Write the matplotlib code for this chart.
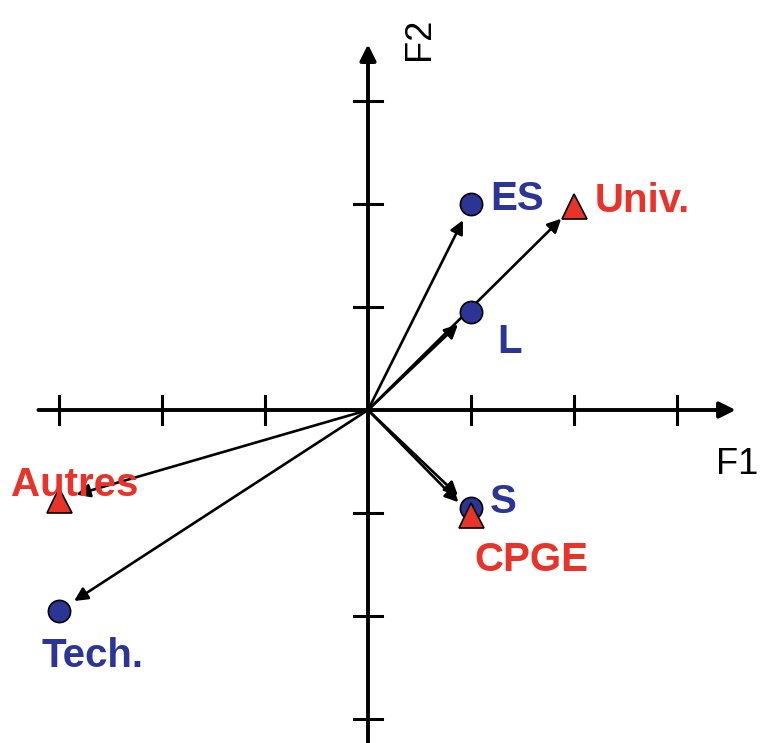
import matplotlib
matplotlib.use("Agg")
import matplotlib.pyplot as plt

# -----------------------------
# Data (F1 / F2 coordinates)
# -----------------------------
BAC_LABELS = ["ES", "L", "S", "Tech."]
BAC_F1 = [1.0, 1.0, 1.0, -3.0]
BAC_F2 = [2.0, 0.95, -0.95, -1.95]

ORIENT_LABELS = ["Univ.", "CPGE", "Autres"]
ORIENT_F1 = [2.0, 1.0, -3.0]
ORIENT_F2 = [1.98, -1.02, -0.87]

TICKS = [-3, -2, -1, 1, 2, 3]

# label offsets in pixels (dx, dy)
LABEL_OFFSETS = {
    "ES": (19, 5), "L": (26, -30), "S": (19, 6), "Tech.": (-18, -45),
    "Univ.": (21, 5), "CPGE": (3, -45), "Autres": (-48, 15),
}

BLUE = "#2b3596"
RED = "#e8332a"

fig = plt.figure(figsize=(7.6, 7.43), dpi=100)
ax = fig.add_axes([0, 0, 1, 1])
unit = 103.0
ax.set_xlim(-368 / unit, (760 - 368) / unit)
ax.set_ylim(-(743 - 410) / unit, 410 / unit)
ax.axis("off")

axis_kw = dict(arrowstyle="-|>", color="black", lw=2.8, mutation_scale=24,
               shrinkA=0, shrinkB=0)
ax.annotate("", xy=(3.57, 0), xytext=(-3.2, 0), arrowprops=axis_kw)
ax.annotate("", xy=(0, 3.55), xytext=(0, -3.4), arrowprops=axis_kw)

for t in TICKS:
    ax.plot([t, t], [-0.14, 0.14], color="black", lw=2.2)
    ax.plot([-0.14, 0.14], [t, t], color="black", lw=2.2)

ax.text(3.79, -0.53, "F1", fontsize=26, family="Liberation Sans",
        ha="right", va="center")
ax.text(0.5, 3.6, "F2", fontsize=26, family="Liberation Sans",
        ha="center", va="center", rotation=90)

arrow_kw = dict(arrowstyle="-|>", color="black", lw=1.9, mutation_scale=20,
                shrinkA=0, shrinkB=13)
for x, y in zip(BAC_F1 + ORIENT_F1, BAC_F2 + ORIENT_F2):
    ax.annotate("", xy=(x, y), xytext=(0, 0), arrowprops=arrow_kw)

ax.plot(BAC_F1, BAC_F2, "o", ms=16, color=BLUE, mec="black", mew=1.2,
        linestyle="none", zorder=3)
ax.plot(ORIENT_F1, ORIENT_F2, "^", ms=18, color=RED, mec="black", mew=1.2,
        linestyle="none", zorder=4)

for labels, xs, ys, col in [(BAC_LABELS, BAC_F1, BAC_F2, BLUE),
                            (ORIENT_LABELS, ORIENT_F1, ORIENT_F2, RED)]:
    for lab, x, y in zip(labels, xs, ys):
        ax.annotate(lab, (x, y), xytext=LABEL_OFFSETS[lab],
                    textcoords="offset pixels", ha="left", va="center",
                    fontsize=29, fontweight="bold", color=col,
                    family="Liberation Sans", zorder=5)

fig.savefig("out.png", dpi=100)
